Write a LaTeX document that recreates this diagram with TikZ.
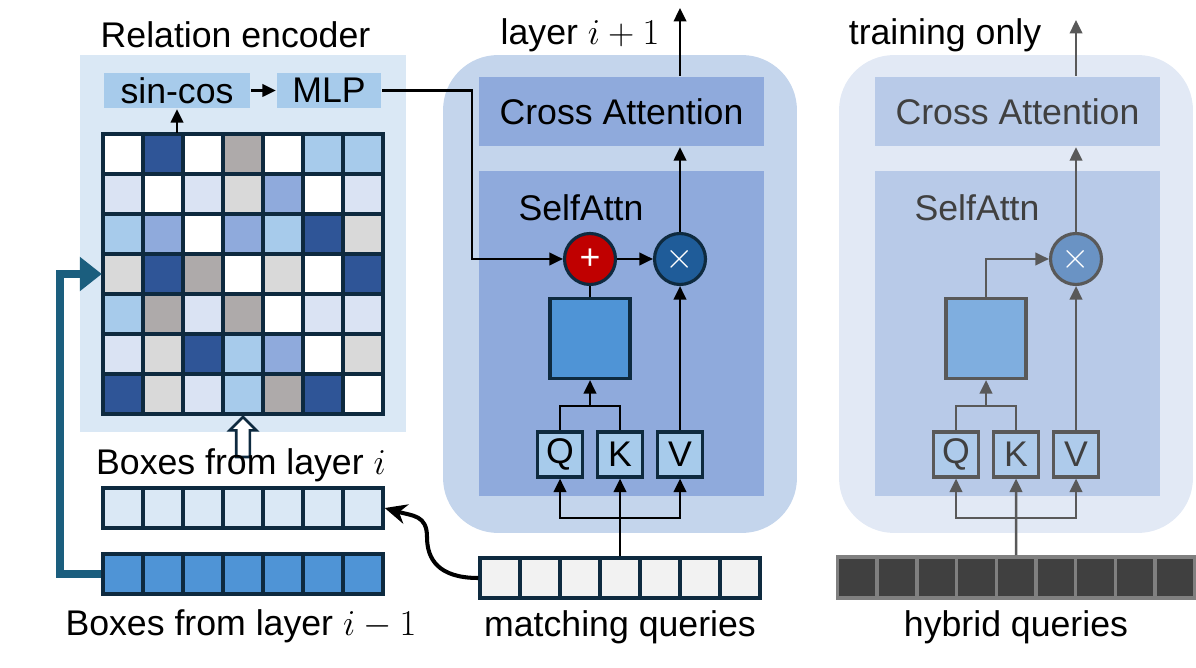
\documentclass[tikz,border=0pt]{standalone}
\usepackage{fontspec}
\setmainfont{Liberation Sans}
\usetikzlibrary{calc,arrows.meta,positioning,shapes.arrows}

\definecolor{navy}{HTML}{0E2A3F}
\definecolor{relbg}{HTML}{DAE8F5}
\definecolor{lblue}{HTML}{A7CBEB}
\definecolor{mblue}{HTML}{8FAADC}
\definecolor{sqblue}{HTML}{4F94D6}
\definecolor{midbg}{HTML}{C4D5EC}
\definecolor{plusred}{HTML}{C00000}
\definecolor{timesblue}{HTML}{1F5C99}
\definecolor{loopteal}{HTML}{1B5E7E}
\definecolor{qgray}{HTML}{F2F2F2}
% 矩阵颜色
\definecolor{cW}{HTML}{FFFFFF}
\definecolor{cD}{HTML}{2F5597}
\definecolor{cG}{HTML}{AEAAAA}
\definecolor{cL}{HTML}{D9D9D9}
\definecolor{cB}{HTML}{A7CBEB}
\definecolor{cP}{HTML}{DAE3F3}
\definecolor{cM}{HTML}{8FAADC}
% 右侧（仅训练）
\definecolor{rgtbg}{HTML}{E2E9F5}
\definecolor{rgtin}{HTML}{B8CAE8}
\definecolor{hsqfill}{HTML}{7FAEDF}
\definecolor{hxfill}{HTML}{6A93C4}
\definecolor{qkvh}{HTML}{AECBEB}
\definecolor{linegray}{HTML}{595959}
\definecolor{txtgray}{HTML}{404040}
\definecolor{hybfill}{HTML}{404040}
\definecolor{hybborder}{HTML}{808080}

\begin{document}
\begin{tikzpicture}[x=0.02cm, y=-0.02cm,
  font=\fontsize{20.3}{24}\selectfont,
  line width=1.4pt,
  >={Triangle[length=0.27cm,width=0.25cm]},
  cellbox/.style={draw=navy, line width=2pt, minimum size=0.8cm, inner sep=0pt},
  panel/.style={rounded corners=1.1cm, minimum width=7.08cm, minimum height=9.56cm, inner sep=0pt},
  blockbox/.style={minimum width=5.7cm, inner sep=0pt},
  opcirc/.style={circle, line width=1.8pt, minimum size=1.02cm, inner sep=0pt, text=white},
  qkvbox/.style={line width=1.8pt, minimum size=0.9cm, inner sep=0pt},
  encbox/.style={fill=lblue, minimum height=0.7cm, inner sep=0pt}]

  \useasboundingbox (0,0) rectangle (1196,668);

  % 关系编码器
  \node[fill=relbg, minimum width=6.52cm, minimum height=7.54cm, inner sep=0pt] (relpanel) at (243,243.5) {};
  \node (reltitle) at (235.5,35) {Relation encoder};
  \node[encbox, minimum width=2.92cm] (sincos) at (177,90.5) {sin-cos};
  \node[encbox, minimum width=2.08cm] (mlp) at (329,90.5) {MLP};
  \draw[->] (sincos) -- (mlp);

  \node[minimum size=5.6cm, inner sep=0pt] (mat) at (243,274) {};
  \foreach \row [count=\r] in {{W,D,W,G,W,B,B},{P,W,P,L,M,W,P},{B,M,W,M,B,D,L},
      {L,D,G,W,L,W,D},{B,G,P,G,W,P,P},{P,L,D,B,M,W,L},{D,L,P,B,G,D,W}}
    \foreach \c [count=\k] in \row
      \node[cellbox, fill=c\c] (m-\r-\k) at ({103+40*(\k-0.5)},{134+40*(\r-0.5)}) {};
  \draw[->] (sincos.south |- mat.north) -- (sincos.south);

  % 空心箭头
  \node[single arrow, draw=navy, fill=white, line width=1.5pt, shape border rotate=90,
    minimum height=0.8cm, single arrow head extend=0.13cm, inner sep=0.11cm, anchor=tip] (hollow) at (mat.south) {};

  \node (lbli) at (241,465) {Boxes from layer $i$};
  \node (lblprev) at (241,626) {Boxes from layer $i-1$};
  \foreach \k in {1,...,7} {
    \node[cellbox, fill=relbg] (bi-\k) at ({103+40*(\k-0.5)},508) {};
    \node[cellbox, fill=sqblue] (bp-\k) at ({103+40*(\k-0.5)},574) {};
    \node[cellbox, fill=qgray] (mq-\k) at ({480+40*(\k-0.5)},578) {};
  }
  \draw[loopteal, line width=4.5pt, -{Triangle[length=0.44cm,width=0.66cm]}]
    (bp-1.west) -| ([xshift=-0.84cm]mat.west) -- (mat.west);
  \draw[line width=2.3pt, -{Stealth[length=0.44cm,width=0.4cm]}]
    (mq-1.west) .. controls +(-40,0) and +(0,22) .. (427,537)
    .. controls +(0,-22) and +(28,8) .. (bi-7.east);
  \node (lblmatch) at (620,627) {matching queries};

  % 中间模块
  \node[panel, fill=midbg] (midpanel) at (620,294) {};
  \node[blockbox, fill=mblue, minimum height=1.38cm] (cross) at (621.5,111.5) {Cross Attention};
  \node[blockbox, fill=mblue, minimum height=6.5cm] (selfbox) at (621.5,333.5) {};
  \node (satxt) at (581,208) {SelfAttn};
  \node[opcirc, draw=navy, fill=plusred] (plus) at (590,259) {+};
  \node[opcirc, draw=navy, fill=timesblue] (times) at (680,259) {$\times$};
  \node[draw=navy, line width=1.8pt, fill=sqblue, minimum size=1.6cm, inner sep=0pt] (att) at (590,338.5) {};
  \node[qkvbox, draw=navy, fill=lblue] (q) at (560,454.5) {Q};
  \node[qkvbox, draw=navy, fill=lblue] (k) at (620,454.5) {K};
  \node[qkvbox, draw=navy, fill=lblue] (v) at (680,454.5) {V};
  \node (lbllayer) at (580,35) {layer $i+1$};

  \coordinate (qkjoin) at (590,406);
  \coordinate (mlpbend) at (472,91);
  \coordinate (msplit) at (620,518);
  \coordinate (midout) at (680,8);

  \draw (q.north) |- (qkjoin) -| (k.north);
  \draw[->] (qkjoin) -- (att.south);
  \draw (att.north) -- (plus.south);
  \draw[->] (plus) -- (times);
  \draw[->] (v) -- (times);
  \draw[->] (times) -- (times |- cross.south);
  \draw[->] (times |- cross.north) -- (midout);
  \draw[->] (mlp.east) -| (mlpbend |- plus.west) -- (plus.west);
  \draw[->] (mq-4.north) -- (k.south);
  \draw[->] (msplit) -| (q.south);
  \draw[->] (msplit) -| (v.south);

  % 右侧模块（仅训练）
  \node[panel, fill=rgtbg] (rgtpanel) at (1016,294) {};
  \node[blockbox, fill=rgtin, text=txtgray, minimum height=1.38cm] (crossh) at (1017.5,111.5) {Cross Attention};
  \node[blockbox, fill=rgtin, minimum height=6.5cm] (selfboxh) at (1017.5,333.5) {};
  \node[text=txtgray] (satxth) at (977,208) {SelfAttn};
  \node[opcirc, draw=linegray, fill=hxfill] (timesh) at (1076,259) {$\times$};
  \node[draw=linegray, line width=1.8pt, fill=hsqfill, minimum size=1.6cm, inner sep=0pt] (atth) at (986,338.5) {};
  \node[qkvbox, draw=linegray, fill=qkvh, text=txtgray] (qh) at (956,454.5) {Q};
  \node[qkvbox, draw=linegray, fill=qkvh, text=txtgray] (kh) at (1016,454.5) {K};
  \node[qkvbox, draw=linegray, fill=qkvh, text=txtgray] (vh) at (1076,454.5) {V};
  \node (lbltrain) at (945,35) {training only};
  \foreach \k in {1,...,9}
    \node[cellbox, draw=hybborder, fill=hybfill, minimum width=0.794cm, minimum height=0.82cm]
      (hq-\k) at ({837.5+39.7*(\k-0.5)},577.5) {};
  \node (lblhyb) at (1016,627) {hybrid queries};

  \coordinate (qkjoinh) at (986,406);
  \coordinate (hsplit) at (1016,518);
  \coordinate (rgtout) at (1076,20);

  \begin{scope}[linegray]
    \draw (qh.north) |- (qkjoinh) -| (kh.north);
    \draw[->] (qkjoinh) -- (atth.south);
    \draw[->] (atth.north) |- (timesh.west);
    \draw[->] (vh) -- (timesh);
    \draw[->] (timesh) -- (timesh |- crossh.south);
    \draw[->] (timesh |- crossh.north) -- (rgtout);
    \draw[->] (hq-5.north) -- (kh.south);
    \draw[->] (hsplit) -| (qh.south);
    \draw[->] (hsplit) -| (vh.south);
  \end{scope}
\end{tikzpicture}
\end{document}
